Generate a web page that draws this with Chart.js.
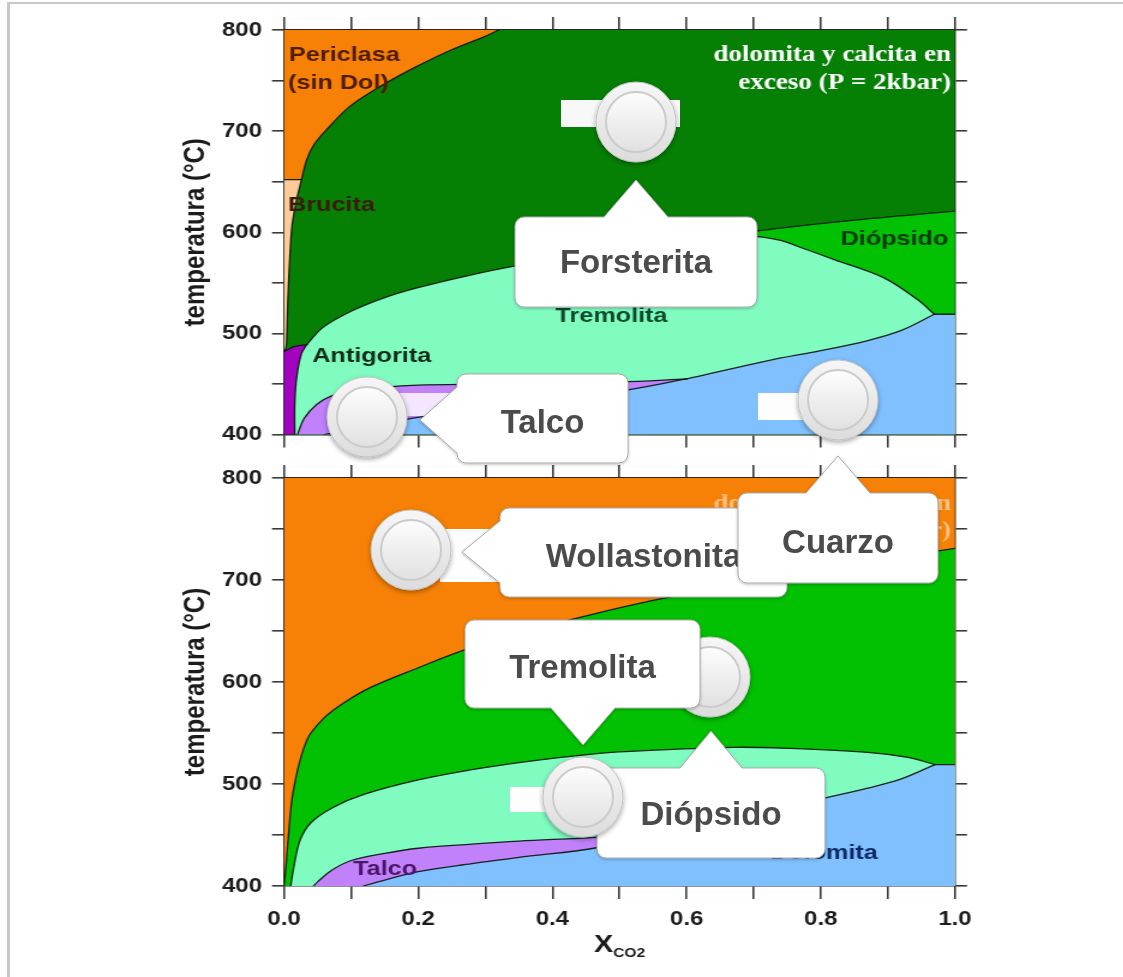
<!DOCTYPE html>
<html lang="es">
<head>
<meta charset="utf-8">
<title>Diagramas T – X(CO2)</title>
<script src="https://cdn.jsdelivr.net/npm/chart.js@4.4.1/dist/chart.umd.min.js"></script>
<style>
  html, body { margin: 0; padding: 0; background: #fff; }
  body { width: 1123px; height: 977px; position: relative; overflow: hidden; }
  #frame { position: absolute; left: 7px; top: 2px; width: 1116px; height: 975px;
           border-top: 2px solid #c9c9c9; border-left: 3px solid #c9c9c9; box-sizing: border-box; }
  .stretch { position: absolute; left: 0; transform-origin: 0 0; transform: scaleX(1.2); }
  .stretch canvas { display: block; filter: blur(0.35px); }
  #overlay { position: absolute; left: 0; top: 0; }
</style>
</head>
<body>
<div id="frame"></div>
<div class="stretch" style="top:0"><canvas id="mgChart" width="936" height="455"></canvas></div>
<div class="stretch" style="top:455px"><canvas id="caChart" width="936" height="522"></canvas></div>
<svg id="overlay" width="1123" height="977" xmlns="http://www.w3.org/2000/svg"></svg>

<script>
// ---------- axes ----------
const xCO2Range = [0, 1];
const tempRange = [400, 800];
const xTickStep = 0.1;
const tempTickStep = 50;
const xTickLabels = ['0.0', '0.2', '0.4', '0.6', '0.8', '1.0'];
const tempTickLabels = ['400', '500', '600', '700', '800'];

// ---------- upper diagram: MgO-bearing assemblages (points are [X_CO2, T °C]) ----------
const mgBruciteTop       = [[0, 652], [0.026, 652]];
const mgPericlaseEdge    = [[0.026, 652], [0.034, 672], [0.045, 687], [0.064, 702], [0.099, 725], [0.148, 746],
                            [0.198, 764], [0.248, 780], [0.297, 793], [0.32, 800]];
const mgBruciteEdge      = [[0, 482], [0.003, 486], [0.004, 496], [0.006, 538], [0.0115, 604], [0.019, 633], [0.026, 652]];
const mgAntigoriteEdge   = [[0.016, 400], [0.016, 430], [0.019, 457], [0.026, 480], [0.034, 489]];
const mgAntigoriteTop    = [[0.034, 489], [0.015, 487], [0, 482]];
const mgTremoliteTopWest = [[0.034, 489], [0.058, 506], [0.1, 522], [0.148, 535], [0.198, 545], [0.273, 557],
                            [0.347, 567], [0.45, 578], [0.52, 585], [0.58, 590]];
const mgTremoliteTopEast = [[0.58, 590], [0.64, 594], [0.7, 596], [0.74, 592], [0.77, 585], [0.82, 573],
                            [0.894, 555], [0.945, 533], [0.969, 519]];
const mgDiopsideTop      = [[0.58, 590], [0.7, 601], [0.85, 612], [1, 621]];
const mgTalcTop          = [[0.02, 400], [0.03, 416], [0.049, 430], [0.07, 438], [0.1, 443], [0.15, 447],
                            [0.2, 449], [0.3, 450], [0.4, 451], [0.5, 452], [0.6, 455]];
const mgTalcBase         = [[0.06, 400], [0.12, 407], [0.19, 416], [0.3, 427], [0.4, 435], [0.5, 443], [0.6, 455]];
const mgTremoliteBase    = [[0.6, 455], [0.72, 473], [0.8, 483], [0.87, 493], [0.92, 503], [0.969, 519]];
const mgDolomiteTop      = [[0.969, 519], [1, 519]];

// ---------- lower diagram: CaO-SiO2 assemblages ----------
const caWollastoniteEdge = [[0, 400], [0.003, 420], [0.006, 445], [0.014, 494], [0.034, 543], [0.06, 565],
                            [0.09, 580], [0.13, 595], [0.2, 614], [0.267, 631], [0.35, 648], [0.47, 668],
                            [0.55, 680], [0.68, 697], [0.8, 711], [0.9, 721], [1, 731]];
const caTremoliteTop     = [[0.01, 400], [0.015, 420], [0.024, 445], [0.04, 462], [0.073, 477], [0.12, 490],
                            [0.2, 504], [0.28, 514], [0.35, 521], [0.47, 530], [0.546, 533], [0.67, 536],
                            [0.75, 535], [0.87, 531], [0.93, 526], [0.97, 519]];
const caDolomiteTop      = [[0.97, 519], [1, 519]];
const caTalcTop          = [[0.044, 400], [0.05, 404], [0.07, 415], [0.1, 425], [0.15, 432], [0.2, 437],
                            [0.28, 441], [0.35, 444], [0.47, 448], [0.56, 453]];
const caTalcBase         = [[0.118, 400], [0.2, 414], [0.28, 422], [0.35, 428], [0.47, 438], [0.56, 453]];
const caTremoliteBase    = [[0.56, 453], [0.65, 465], [0.75, 479], [0.81, 487], [0.87, 496], [0.92, 505], [0.97, 519]];

// ---------- styling / layout ----------
const STRETCH = 1.2;                       // both chart canvases are widened by this factor
const CANVAS_W = 936;
const PLOT_LEFT = 284 / STRETCH;
const PLOT_RIGHT = 955 / STRETCH;
const PAD_LEFT = 149;
const SANS = '"Liberation Sans", Arial, Helvetica, sans-serif';
const SERIF = '"Liberation Serif", "Times New Roman", serif';
const TEXT_COLOR = '#1b1b1b';
const TICK_COLOR = '#3a3a3a';
const FRAME_COLOR = '#262626';
const EDGE_COLOR = 'rgba(12, 22, 14, 0.92)';
const TENSION = 0.35;

const COLORS = {
  orange: '#f78106', peach: '#fecb98', forest: '#058005', green: '#02c002',
  aqua: '#80fcc1', blue: '#80c0fe', lilac: '#c181fb', magenta: '#a202c0'
};

const rev = a => a.slice().reverse();
// closed outline from boundary pieces; piece ends are repeated so joins stay sharp
function region(...pieces) {
  const pts = [];
  for (const p of pieces) pts.push(p[0], ...p, p[p.length - 1]);
  return pts;
}
const fullBox = [[[0, 400]], [[1, 400]], [[1, 800]], [[0, 800]]];

function fillSet(points, color) {
  return { data: points.map(([x, y]) => ({ x, y })), backgroundColor: color,
           borderColor: 'rgba(0,0,0,0)', borderWidth: 1, fill: 'shape',
           pointRadius: 0, pointHoverRadius: 0, tension: TENSION };
}
function edgeSet(points) {
  return { data: points.map(([x, y]) => ({ x, y })), borderColor: EDGE_COLOR, borderWidth: 1.3,
           fill: false, pointRadius: 0, pointHoverRadius: 0, tension: TENSION,
           borderJoinStyle: 'round', borderCapStyle: 'round' };
}

const xLabelFor = v => xTickLabels.find(l => Math.abs(parseFloat(l) - v) < 1e-6) || '';
const tempLabelFor = v => tempTickLabels.find(l => Math.abs(parseFloat(l) - v) < 1e-6) || '';

function scales(showXLabels, bottomHeight) {
  const tickFont = { family: SANS, size: 20, weight: 'bold' };
  const grid = { drawOnChartArea: false, drawTicks: true, color: TICK_COLOR, lineWidth: 1.6 };
  const border = { display: true, color: FRAME_COLOR, width: 1.5 };
  return {
    x: { type: 'linear', position: 'bottom', min: xCO2Range[0], max: xCO2Range[1],
         grid: { ...grid, tickLength: 13 }, border,
         ticks: { display: showXLabels, stepSize: xTickStep, autoSkip: false, maxRotation: 0,
                  padding: 8, color: TEXT_COLOR, font: tickFont, callback: xLabelFor },
         afterFit: s => { s.height = bottomHeight; } },
    x2: { type: 'linear', axis: 'x', position: 'top', min: xCO2Range[0], max: xCO2Range[1],
          grid: { ...grid, tickLength: 13 }, border,
          ticks: { display: false, stepSize: xTickStep, autoSkip: false },
          afterFit: s => { s.height = 10; } },
    y: { type: 'linear', position: 'left', min: tempRange[0], max: tempRange[1],
         grid: { ...grid, tickLength: 10 }, border,
         ticks: { stepSize: tempTickStep, autoSkip: false, padding: 8.4, color: TEXT_COLOR,
                  font: tickFont, callback: tempLabelFor },
         title: { display: true, text: 'temperatura (°C)', color: TEXT_COLOR, padding: 0,
                  font: { family: SANS, size: 24, weight: 'bold' } },
         afterFit: s => { s.width = PLOT_LEFT - PAD_LEFT; } },
    y2: { type: 'linear', axis: 'y', position: 'right', min: tempRange[0], max: tempRange[1],
          grid: { ...grid, tickLength: 10 }, border,
          ticks: { display: false, stepSize: tempTickStep, autoSkip: false },
          afterFit: s => { s.width = CANVAS_W - PLOT_RIGHT; } }
  };
}

// text placed in data coordinates inside the plot area
const regionText = {
  id: 'regionText',
  afterDatasetsDraw(chart, args, opts) {
    const { ctx } = chart, xs = chart.scales.x, ys = chart.scales.y;
    ctx.save();
    ctx.textBaseline = 'alphabetic';
    for (const t of opts.items) {
      ctx.font = t.font; ctx.fillStyle = t.color; ctx.textAlign = t.align;
      ctx.fillText(t.text, xs.getPixelForValue(t.at[0]), ys.getPixelForValue(t.at[1]));
    }
    ctx.restore();
  }
};

// X_CO2 axis title with subscript
const xTitle = {
  id: 'xTitle',
  afterDraw(chart) {
    const { ctx, chartArea } = chart;
    const cx = (chartArea.left + chartArea.right) / 2;
    const big = `bold 24px ${SANS}`, small = `bold 13px ${SANS}`;
    ctx.save();
    ctx.fillStyle = TEXT_COLOR; ctx.textAlign = 'left'; ctx.textBaseline = 'alphabetic';
    ctx.font = big; const wX = ctx.measureText('X').width;
    ctx.font = small; const wS = ctx.measureText('CO2').width;
    const x0 = cx - (wX + wS) / 2;
    ctx.font = big; ctx.fillText('X', x0, chartArea.bottom + 66);
    ctx.font = small; ctx.fillText('CO2', x0 + wX, chartArea.bottom + 71);
    ctx.restore();
  }
};

const LABEL_FONT = `bold 21px ${SANS}`;
const NOTE_FONT = `bold 22.5px ${SERIF}`;
const noteLines = ['dolomita y calcita en', 'exceso (P = 2kbar)'];

function build(canvasId, layers, edges, texts, isLower) {
  // first entry ends up at the bottom of the stack
  const sets = [...layers, ...edges];
  sets.forEach((d, i) => { d.order = sets.length - i; });
  return new Chart(document.getElementById(canvasId), {
    type: 'line',
    data: { datasets: sets },
    options: {
      responsive: false, animation: false, devicePixelRatio: 1, events: [],
      layout: { padding: { left: PAD_LEFT, right: 0, top: isLower ? 13 : 20, bottom: 0 } },
      scales: scales(isLower, isLower ? 91 : 17),
      plugins: { legend: { display: false }, tooltip: { enabled: false },
                 regionText: { items: texts } }
    },
    plugins: isLower ? [regionText, xTitle] : [regionText]
  });
}

// upper diagram
build('mgChart',
  [
    fillSet(region(...fullBox), COLORS.forest),
    fillSet(region(mgBruciteTop, mgPericlaseEdge, [[0, 800]]), COLORS.orange),
    fillSet(region(mgBruciteEdge, rev(mgBruciteTop)), COLORS.peach),
    fillSet(region(mgAntigoriteEdge, mgTremoliteTopWest, mgTremoliteTopEast, [[1, 519]], [[1, 400]]), COLORS.aqua),
    fillSet(region(mgDiopsideTop, rev(mgDolomiteTop), rev(mgTremoliteTopEast)), COLORS.green),
    fillSet(region(mgTalcBase, mgTremoliteBase, mgDolomiteTop, [[1, 400]]), COLORS.blue),
    fillSet(region(mgTalcTop, rev(mgTalcBase)), COLORS.lilac),
    fillSet(region([[0, 400]], mgAntigoriteEdge, mgAntigoriteTop), COLORS.magenta)
  ],
  [mgBruciteTop, mgPericlaseEdge, mgBruciteEdge, mgAntigoriteEdge, mgAntigoriteTop, mgTremoliteTopWest,
   mgTremoliteTopEast, mgDiopsideTop, mgTalcTop, mgTalcBase, mgTremoliteBase, mgDolomiteTop].map(edgeSet),
  [
    { text: 'Periclasa', at: [0.0075, 769.6], color: '#4f1c06', align: 'left', font: LABEL_FONT },
    { text: '(sin Dol)', at: [0.006, 742], color: '#4f1c06', align: 'left', font: LABEL_FONT },
    { text: 'Brucita', at: [0.006, 620.6], color: '#3d1a08', align: 'left', font: LABEL_FONT },
    { text: 'Antigorita', at: [0.042, 471.6], color: '#0f2c18', align: 'left', font: LABEL_FONT },
    { text: 'Tremolita', at: [0.488, 511.8], color: '#0d4a2b', align: 'center', font: LABEL_FONT },
    { text: 'Diópsido', at: [0.99, 587.6], color: '#073a07', align: 'right', font: LABEL_FONT },
    { text: noteLines[0], at: [0.994, 769], color: '#ffffff', align: 'right', font: NOTE_FONT },
    { text: noteLines[1], at: [0.994, 742], color: '#ffffff', align: 'right', font: NOTE_FONT }
  ],
  false);

// lower diagram
build('caChart',
  [
    fillSet(region(...fullBox), COLORS.orange),
    fillSet(region(caWollastoniteEdge, [[1, 400]]), COLORS.green),
    fillSet(region(caTremoliteTop, [[1, 519]], [[1, 400]]), COLORS.aqua),
    fillSet(region(caTalcBase, caTremoliteBase, caDolomiteTop, [[1, 400]]), COLORS.blue),
    fillSet(region(caTalcTop, rev(caTalcBase)), COLORS.lilac)
  ],
  [caWollastoniteEdge, caTremoliteTop, caDolomiteTop, caTalcTop, caTalcBase, caTremoliteBase].map(edgeSet),
  [
    { text: 'Talco', at: [0.1507, 410.8], color: '#4a1668', align: 'center', font: LABEL_FONT },
    { text: 'Dolomita', at: [0.885, 426.5], color: '#0e2a66', align: 'right', font: LABEL_FONT },
    { text: noteLines[0], at: [0.994, 769], color: 'rgba(255,255,255,0.5)', align: 'right', font: NOTE_FONT },
    { text: noteLines[1], at: [0.994, 742], color: 'rgba(255,255,255,0.5)', align: 'right', font: NOTE_FONT }
  ],
  true);

// ---------- answer targets and name tags laid over the diagrams ----------
const blanks = [
  { rect: [561, 100, 119, 27], fill: '#f8f8f8' },
  { rect: [380, 393, 78, 23], fill: 'rgba(255,255,255,0.8)' },
  { rect: [758, 393, 57, 27], fill: '#fdfdfd' },
  { rect: [440, 529, 60, 53], fill: '#fefefe' },
  { rect: [510, 787, 50, 25], fill: '#fefefe' }
];
const targets = [[636, 122], [367, 417], [838, 400], [411, 550], [583, 797]];
const hiddenTarget = [710, 677];
const tags = [
  { text: 'Forsterita',   box: [515, 217, 242, 90], side: 'top',    tip: [636, 180], half: 32, base: 273 },
  { text: 'Talco',        box: [457, 374, 171, 89], side: 'left',   tip: [420, 420], half: 33, base: 433 },
  { text: 'Wollastonita', box: [500, 508, 287, 89], side: 'left',   tip: [462, 552], half: 31, base: 567 },
  { text: 'Cuarzo',       box: [738, 493, 200, 90], side: 'top',    tip: [838, 456], half: 32, base: 553 },
  { text: 'Tremolita',    box: [465, 620, 235, 88], side: 'bottom', tip: [583, 745], half: 32, base: 678 },
  { text: 'Diópsido',     box: [597, 768, 228, 90], side: 'top',    tip: [711, 731], half: 31, base: 825 }
];

const NS = 'http://www.w3.org/2000/svg';
const svg = document.getElementById('overlay');
function add(tag, attrs, parent = svg) {
  const e = document.createElementNS(NS, tag);
  for (const k in attrs) e.setAttribute(k, attrs[k]);
  parent.appendChild(e);
  return e;
}
const defs = add('defs', {});
defs.innerHTML = `
  <filter id="tagShadow" x="-10%" y="-20%" width="120%" height="140%">
    <feDropShadow dx="0" dy="1" stdDeviation="1.6" flood-color="#000" flood-opacity="0.28"/>
  </filter>
  <filter id="knobShadow" x="-30%" y="-30%" width="160%" height="160%">
    <feDropShadow dx="0" dy="2" stdDeviation="2.4" flood-color="#000" flood-opacity="0.35"/>
  </filter>
  <linearGradient id="knobOuter" x1="0" y1="0" x2="0" y2="1">
    <stop offset="0" stop-color="#f6f6f6"/><stop offset="1" stop-color="#dcdcdc"/>
  </linearGradient>
  <linearGradient id="knobInner" x1="0" y1="0" x2="0" y2="1">
    <stop offset="0" stop-color="#fdfdfd"/><stop offset="1" stop-color="#e1e1e1"/>
  </linearGradient>`;

function tagPath(t) {
  const [x, y, w, h] = t.box, r = 9, [tx, ty] = t.tip, hw = t.half;
  const cy = (t.side === 'left') ? ty : 0;
  let d = `M${x + r},${y}`;
  if (t.side === 'top') d += ` L${tx - hw},${y} L${tx},${ty} L${tx + hw},${y}`;
  d += ` L${x + w - r},${y} A${r},${r} 0 0 1 ${x + w},${y + r}`;
  d += ` L${x + w},${y + h - r} A${r},${r} 0 0 1 ${x + w - r},${y + h}`;
  if (t.side === 'bottom') d += ` L${tx + hw},${y + h} L${tx},${ty} L${tx - hw},${y + h}`;
  d += ` L${x + r},${y + h} A${r},${r} 0 0 1 ${x},${y + h - r}`;
  if (t.side === 'left') d += ` L${x},${cy + hw} L${tx},${cy} L${x},${cy - hw}`;
  d += ` L${x},${y + r} A${r},${r} 0 0 1 ${x + r},${y} Z`;
  return d;
}
function knob([cx, cy]) {
  const g = add('g', { filter: 'url(#knobShadow)' });
  add('circle', { cx, cy, r: 40, fill: 'url(#knobOuter)', stroke: '#c3c3c3', 'stroke-width': 1 }, g);
  add('circle', { cx, cy, r: 30, fill: 'url(#knobInner)', stroke: '#cbcbcb', 'stroke-width': 2 }, g);
}
function tag(t) {
  const g = add('g', {});
  add('path', { d: tagPath(t), fill: '#ffffff', stroke: '#ababab', 'stroke-width': 1, filter: 'url(#tagShadow)' }, g);
  const tx = add('text', { x: t.box[0] + t.box[2] / 2, y: t.base, 'text-anchor': 'middle',
    'font-family': SANS, 'font-weight': 'bold', 'font-size': 33, fill: '#4b4b4b' }, g);
  tx.textContent = t.text;
}

blanks.forEach(b => add('rect', { x: b.rect[0], y: b.rect[1], width: b.rect[2], height: b.rect[3], fill: b.fill }));
knob(hiddenTarget);
tags.forEach(tag);
targets.forEach(knob);
</script>
</body>
</html>
